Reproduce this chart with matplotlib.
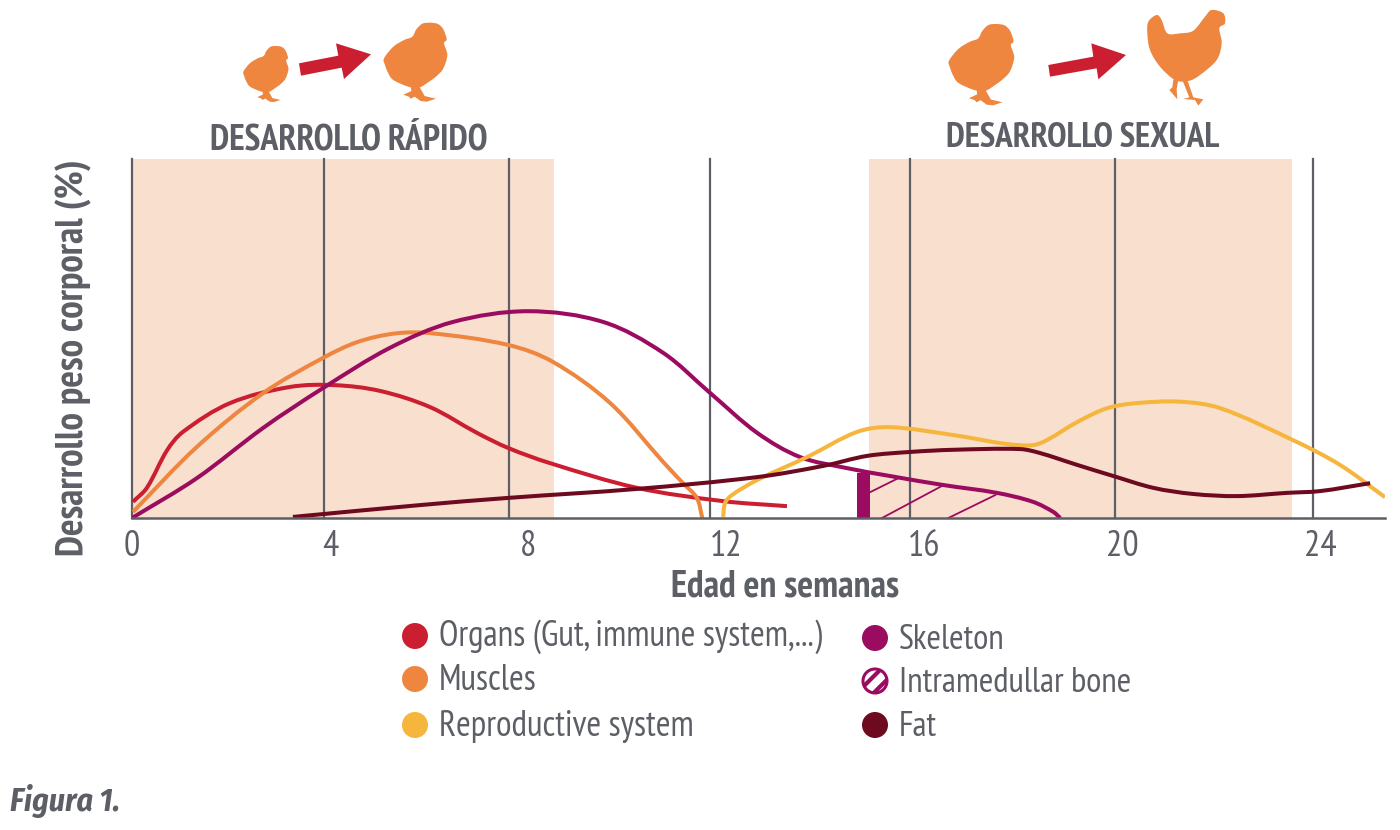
# -*- coding: utf-8 -*-
import numpy as np
import matplotlib
matplotlib.use('Agg')
import matplotlib.pyplot as plt
from matplotlib.path import Path
from matplotlib.patches import PathPatch, Polygon, Circle

# Growth curves: week, share of development
organs_x = [.02, .30, .71, 1.03, 1.98, 3.19, 4.1, 5.01, 6.02, 6.97, 7.6, 8.44, 10.2, 11.94, 13.23]
organs_y = [4.5, 8.4, 18.9, 24, 32, 36.5, 37, 35.4, 30.9, 23.7, 19.5, 15.3, 8.4, 4.7, 3.3]

muscles_x = [.02, 1.31, 2.65, 3.86, 4.55, 5.31, 6.02, 7.6, 8.5, 9.66, 10.73, 11.13, 11.41, 11.52]
muscles_y = [1.7, 19.8, 34.8, 44.6, 49, 51.4, 51.5, 48.2, 43.5, 32, 15.6, 9.7, 5.6, 0]

skeleton_x = [0, 1.31, 2.65, 3.86, 5.21, 6.48, 8.0, 9.52, 10.73, 11.68, 12.63, 13.49, 14.44, 15.31, 16.38, 17.47, 18.2, 18.61, 18.75]
skeleton_y = [0, 11.1, 25.1, 36.2, 47.4, 54.6, 57.6, 54.6, 46, 34.8, 23.7, 17, 13.9, 11.7, 9.2, 7, 4.5, 1.7, 0]

repro_x = [11.94, 11.98, 12.12, 12.63, 13.64, 14.65, 15.31, 16.59, 17.68, 18.2, 18.48, 19.09, 19.7, 20.3, 21.17, 21.98, 23.45, 24.4, 25.31]
repro_y = [.3, 4.2, 6.4, 10.6, 17, 24, 25.3, 23.1, 20.6, 20.3, 21.7, 26.7, 30.6, 32, 32.4, 30.6, 21.7, 14.8, 5.8]

fat_x = [3.25, 5.82, 7.6, 10.2, 12.63, 13.96, 14.85, 15.72, 16.59, 17.94, 18.34, 19.09, 19.82, 20.63, 21.43, 22.32, 23.33, 24.0, 25.01]
fat_y = [.3, 3.6, 5.6, 8.1, 11.4, 14.5, 17.3, 18.4, 19, 19.2, 18.1, 14.8, 11.7, 8.4, 6.7, 6.1, 7, 7.5, 9.7]

# Intramedullar bone: solid bar plus hatch strokes under the skeleton curve
bone_bar_x = 14.78
bone_bar_width = 0.26
bone_bar_height = 12.5
hatch_x = [[14.91, 15.48], [15.15, 16.37], [16.49, 17.44]]
hatch_y = [[7.2, 11.1], [0, 9], [0, 6.4]]

# Shaded phases and vertical week markers
bands = [(0, 8.52), (14.89, 23.43)]
grid_weeks = [0, 3.88, 7.62, 11.68, 15.72, 19.86, 23.86]
tick_weeks = [0, 4, 8, 12, 16, 20, 24]

legend_left = ['Organs (Gut, immune system,...)', 'Muscles', 'Reproductive system']
legend_right = ['Skeleton', 'Intramedullar bone', 'Fat']

RED = '#cb1f31'
ORANGE = '#ee8640'
YELLOW = '#f6b53c'
PURPLE = '#9b0b5f'
WINE = '#6e0a20'
GREY = '#5d5f66'
BAND = '#f9dfcd'

plt.rcParams['font.family'] = ['PT Sans Narrow', 'Roboto Condensed', 'Liberation Sans', 'DejaVu Sans']
plt.rcParams['hatch.linewidth'] = 3


def smooth_path(x, y):
    # Hermite curve through the points, tangents weighted by chord length on screen
    p = np.column_stack([x, y]).astype(float)
    h = np.hypot(np.diff(p[:, 0]) * 49.5, np.diff(p[:, 1]) * 3.59)
    t = np.zeros_like(p)
    t[1:-1] = (p[2:] - p[:-2]) / (h[:-1] + h[1:])[:, None]
    t[0] = (p[1] - p[0]) / h[0]
    t[-1] = (p[-1] - p[-2]) / h[-1]
    verts = [p[0]]
    codes = [Path.MOVETO]
    for i in range(len(p) - 1):
        verts += [p[i] + t[i] * h[i] / 3, p[i + 1] - t[i + 1] * h[i] / 3, p[i + 1]]
        codes += [Path.CURVE4] * 3
    return Path(verts, codes)


def closed_path(points):
    # Closed outline, plain Catmull-Rom
    p = np.array(points, dtype=float)
    n = len(p)
    verts = [p[0]]
    codes = [Path.MOVETO]
    for i in range(n):
        a, b, c, d = p[i - 1], p[i], p[(i + 1) % n], p[(i + 2) % n]
        verts += [b + (c - a) / 6, c - (d - b) / 6, c]
        codes += [Path.CURVE4] * 3
    return Path(verts, codes)


fig = plt.figure(figsize=(14, 8.3), dpi=100)
ax = fig.add_axes([132 / 1400, (830 - 518) / 830, (1385 - 132) / 1400, (518 - 159) / 830])
ax.set_xlim(0, 25.31)
ax.set_ylim(0, 100)

for start, end in bands:
    ax.axvspan(start, end, color=BAND, lw=0, zorder=0)
for week in grid_weeks:
    ax.axvline(week, color=GREY, lw=1.6, zorder=1, clip_on=False)

# Curves
for x, y, colour in [(organs_x, organs_y, RED), (muscles_x, muscles_y, ORANGE),
                     (skeleton_x, skeleton_y, PURPLE), (repro_x, repro_y, YELLOW),
                     (fat_x, fat_y, WINE)]:
    ax.add_patch(PathPatch(smooth_path(x, y), fc='none', ec=colour, lw=2.9, capstyle='butt', zorder=3))

ax.bar(bone_bar_x, bone_bar_height, bone_bar_width, color=PURPLE, lw=0, zorder=2)
for x, y in zip(hatch_x, hatch_y):
    ax.plot(x, y, color=PURPLE, lw=1.3, zorder=2)

# Axes
for side in ['top', 'right', 'left']:
    ax.spines[side].set_visible(False)
ax.spines['bottom'].set_color(GREY)
ax.spines['bottom'].set_linewidth(1.8)
ax.spines['bottom'].set_zorder(4)
ax.set_yticks([])
ax.set_xticks(tick_weeks)
ax.tick_params(axis='x', length=0, pad=9, labelsize=26, labelcolor=GREY)

# Everything outside the plot goes on a full-figure layer in pixels
over = fig.add_axes([0, 0, 1, 1], zorder=5)
over.set_xlim(0, 1400)
over.set_ylim(830, 0)
over.axis('off')
over.patch.set_alpha(0)

over.text(349, 140, 'DESARROLLO RÁPIDO', color=GREY, fontsize=25.8, fontweight='bold', ha='center', va='center')
over.text(1083, 138, 'DESARROLLO SEXUAL', color=GREY, fontsize=25.3, fontweight='bold', ha='center', va='center')
over.text(785, 587, 'Edad en semanas', color=GREY, fontsize=27, fontweight='bold', ha='center', va='center')
over.text(74, 358, 'Desarrollo peso corporal (%)', color=GREY, fontsize=28.2, fontweight='bold',
          rotation=90, ha='center', va='center')
over.text(10, 801, 'Figura 1.', color=GREY, fontsize=23, fontweight='bold', style='italic', ha='left', va='center',
          family=['Fira Sans Condensed', 'PT Sans Narrow', 'Liberation Sans'])

# Legend
for label, y, colour in zip(legend_left, [637, 680, 726], [RED, ORANGE, YELLOW]):
    over.add_patch(Circle((415, y - 1), 13, fc=colour, ec='none'))
    over.text(439, y, label, color=GREY, fontsize=25.6, ha='left', va='center')
for label, y in zip(legend_right, [640, 683, 727]):
    over.text(899, y, label, color=GREY, fontsize=25.2, ha='left', va='center')
over.add_patch(Circle((875, 638), 13, fc=PURPLE, ec='none'))
over.add_patch(Circle((875, 681), 12, fc='white', ec=PURPLE, lw=2.2, hatch='//'))
over.add_patch(Circle((875, 725), 13, fc=WINE, ec='none'))

# Silhouettes
chick_body = [(115, 3), (138, 0), (162, 4), (178, 20), (188, 50), (180, 62), (190, 97), (178, 137), (160, 158), (138, 175),
              (105, 195), (73, 192), (28, 172), (12, 150), (3, 127), (0, 107), (28, 72), (60, 52), (85, 42), (97, 20)]
chick_legs = [(80, 185), (82, 205), (58, 216), (75, 222), (80, 228), (92, 222), (110, 235), (128, 237), (156, 228), (122, 220), (105, 190)]
hen_body = [(680, 45), (695, 60), (712, 100), (750, 100), (790, 92), (825, 50), (845, 30), (880, 40), (885, 70), (868, 85),
            (875, 130), (860, 180), (810, 225), (775, 243), (735, 240), (690, 200), (660, 150), (652, 100), (655, 65)]
hen_legs = [[(730, 238), (727, 262), (718, 270), (742, 298), (740, 268), (745, 240)],
            [(757, 240), (778, 292), (760, 297), (795, 300), (805, 317), (820, 298), (790, 292), (772, 240)]]
arrows = [[(207, 190), (325, 167), (318, 130), (423, 163), (342, 237), (335, 203), (213, 227)],
          [(355, 195), (490, 170), (484, 130), (588, 165), (505, 238), (500, 205), (360, 230)]]


def chick(left, top, scale):
    pts = np.array(chick_body) * scale / 3 + (left, top)
    over.add_patch(PathPatch(closed_path(pts), fc=ORANGE, ec='none'))
    over.add_patch(Polygon(np.array(chick_legs) * scale / 3 + (left, top), fc=ORANGE, ec='none'))


chick(243.5, 46, 0.71)
chick(384, 22.7, 1.0)
chick(949, 24, 1.03)

over.add_patch(PathPatch(closed_path(np.array(hen_body) / 3 + (930, 0)), fc=ORANGE, ec='none'))
for leg in hen_legs:
    over.add_patch(Polygon(np.array(leg) / 3 + (930, 0), fc=ORANGE, ec='none'))
over.add_patch(Polygon(np.array(arrows[0]) / 3 + (230, 0), fc=RED, ec='none'))
over.add_patch(Polygon(np.array(arrows[1]) / 3 + (930, 0), fc=RED, ec='none'))

plt.savefig('out.png', dpi=100)
